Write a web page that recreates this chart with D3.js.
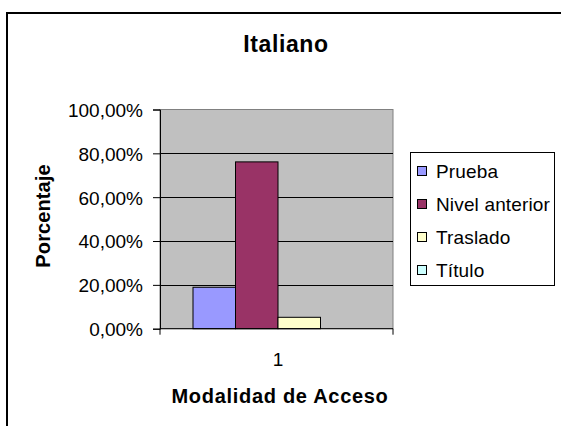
<!DOCTYPE html>
<html>
<head>
<meta charset="utf-8">
<script src="https://cdn.jsdelivr.net/npm/d3@7"></script>
<style>
html,body{margin:0;padding:0;background:#fff;}
svg{display:block;}
text{font-family:"Liberation Sans",Arial,Helvetica,sans-serif;fill:#000;}
</style>
</head>
<body>
<svg id="chart" width="561" height="426"></svg>
<script>
const title = "Italiano";
const categories = ["1"];
const seriesNames = ["Prueba", "Nivel anterior", "Traslado", "Título"];
const seriesValues = [0.189, 0.761, 0.052, 0];
const seriesColors = ["#9999FF", "#993366", "#FFFFCC", "#CCFFFF"];
const yTicks = [0, 0.2, 0.4, 0.6, 0.8, 1.0];
const yTitle = "Porcentaje";
const xTitle = "Modalidad de Acceso";

const svg = d3.select("#chart");
const loc = d3.formatLocale({decimal: ",", thousands: ".", grouping: [3], currency: ["", "€"], percent: "%"});
const fmt = loc.format(".2%");

const plot = {left: 160, right: 393, top: 109.5, bottom: 328.7};

// outer chart border (extends past the visible window)
svg.append("rect").attr("x", 7).attr("y", 13).attr("width", 620).attr("height", 520)
  .attr("fill", "#fff").attr("stroke", "#000").attr("stroke-width", 2);

// title
svg.append("text").attr("x", 286).attr("y", 52).attr("text-anchor", "middle")
  .style("font-size", "23px").style("font-weight", "bold").style("letter-spacing", "0.6px")
  .text(title);

const y = d3.scaleLinear().domain([0, 1]).range([plot.bottom, plot.top]);
const x0 = d3.scaleBand().domain(categories).range([plot.left, plot.right])
  .paddingInner(0).paddingOuter(0.1853);
const x1 = d3.scaleBand().domain(seriesNames).range([0, x0.bandwidth()]);

// plot background
svg.append("rect").attr("x", plot.left).attr("y", plot.top)
  .attr("width", plot.right - plot.left).attr("height", plot.bottom - plot.top)
  .attr("fill", "#C0C0C0").attr("stroke", "#808080").attr("stroke-width", 1);

// gridlines
svg.append("g").selectAll("line").data(yTicks.filter(d => d > 0 && d < 1)).join("line")
  .attr("x1", plot.left).attr("x2", plot.right)
  .attr("y1", d => Math.round(y(d)) + 0.5).attr("y2", d => Math.round(y(d)) + 0.5)
  .attr("stroke", "#000").attr("stroke-width", 1);

// bars
const g = svg.append("g").attr("transform", "translate(1.5,0)");
categories.forEach((c, ci) => {
  g.selectAll("rect.s" + ci).data(seriesNames).join("rect")
    .attr("x", d => x0(c) + x1(d))
    .attr("y", (d, i) => y(seriesValues[i]))
    .attr("width", x1.bandwidth())
    .attr("height", (d, i) => y(0) - y(seriesValues[i]))
    .attr("fill", (d, i) => seriesColors[i])
    .attr("stroke", "#000").attr("stroke-width", 1)
    .attr("display", (d, i) => seriesValues[i] > 0 ? null : "none");
});

// y axis
const yAxis = d3.axisLeft(y).tickValues(yTicks).tickFormat(fmt).tickSize(7).tickPadding(10);
const yg = svg.append("g").attr("transform", `translate(${plot.left},0)`).call(yAxis);
yg.select(".domain").attr("stroke", "#000");
yg.selectAll(".tick line").attr("stroke", "#000");
yg.selectAll(".tick text").style("font-size", "19px").style("letter-spacing", "0px")
  .attr("dy", "0.36em").attr("fill", "#000");

// x axis
const xAxis = d3.axisBottom(x0).tickSize(0).tickPadding(24);
const xg = svg.append("g").attr("transform", `translate(1.5,${plot.bottom})`).call(xAxis);
xg.select(".domain").attr("stroke", "#000").attr("d", `M${plot.left - 1.5},6V0H${plot.right - 1.5}V6`);
xg.selectAll(".tick text").style("font-size", "19px").attr("fill", "#000").attr("dy", "0.71em");

// axis titles
svg.append("text").attr("transform", "translate(50,216) rotate(-90)").attr("text-anchor", "middle")
  .style("font-size", "20px").style("font-weight", "bold").style("letter-spacing", "0.1px")
  .text(yTitle);
svg.append("text").attr("x", 280).attr("y", 403).attr("text-anchor", "middle")
  .style("font-size", "20px").style("font-weight", "bold").style("letter-spacing", "0.7px")
  .text(xTitle);

// legend
const lg = svg.append("g");
lg.append("rect").attr("x", 410.5).attr("y", 152.5).attr("width", 144).attr("height", 133)
  .attr("fill", "#fff").attr("stroke", "#000").attr("stroke-width", 1);
const items = lg.selectAll("g.item").data(seriesNames).join("g")
  .attr("transform", (d, i) => `translate(0,${178 + i * 33})`);
items.append("rect").attr("x", 417.5).attr("y", -11.5).attr("width", 9).attr("height", 9)
  .attr("fill", (d, i) => seriesColors[i]).attr("stroke", "#000").attr("stroke-width", 1);
items.append("text").attr("x", 436).attr("y", 0)
  .style("font-size", "19px").style("letter-spacing", "0.15px").text(d => d);
</script>
</body>
</html>
